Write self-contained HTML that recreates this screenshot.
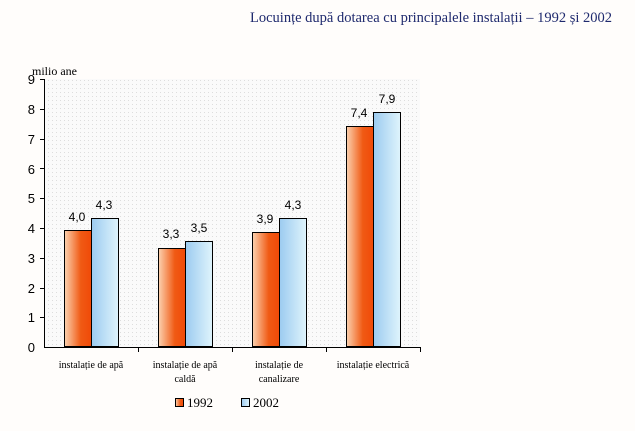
<!DOCTYPE html>
<html><head><meta charset="utf-8"><style>
body{margin:0;width:635px;height:426px;background:#fffdfb;overflow:hidden;font-family:"Liberation Serif",serif}
</style></head><body>
<svg width="635" height="426" xmlns="http://www.w3.org/2000/svg" font-family="Liberation Serif, serif">
<defs>
<linearGradient id="o" x1="0" x2="1"><stop offset="0" stop-color="#fbd2b0"/><stop offset="0.6" stop-color="#f05a14"/><stop offset="1" stop-color="#f04a08"/></linearGradient>
<linearGradient id="b" x1="0" x2="1"><stop offset="0" stop-color="#9ccbf0"/><stop offset="1" stop-color="#dff4fc"/></linearGradient>
<pattern id="d" width="4" height="4" patternUnits="userSpaceOnUse"><rect width="4" height="4" fill="#fafafa"/><rect width="1" height="1" fill="#ddd"/></pattern>
</defs>
<text x="612" y="22" font-size="14.5" fill="#1f2a6e" text-anchor="end">Locuințe după dotarea cu principalele instalații – 1992 și 2002</text>
<rect x="44" y="79" width="376" height="268" fill="url(#d)"/>
<text x="32" y="75" font-size="12" fill="#000">milio ane</text>
<g stroke="#000" stroke-width="1">
<line x1="44.5" y1="79" x2="44.5" y2="347"/>
<line x1="44" y1="347.5" x2="420" y2="347.5"/>
<line x1="40" y1="79.5" x2="44" y2="79.5"/><line x1="40" y1="109.5" x2="44" y2="109.5"/><line x1="40" y1="139.5" x2="44" y2="139.5"/><line x1="40" y1="168.5" x2="44" y2="168.5"/><line x1="40" y1="198.5" x2="44" y2="198.5"/><line x1="40" y1="228.5" x2="44" y2="228.5"/><line x1="40" y1="258.5" x2="44" y2="258.5"/><line x1="40" y1="288.5" x2="44" y2="288.5"/><line x1="40" y1="317.5" x2="44" y2="317.5"/>
<line x1="138.5" y1="347" x2="138.5" y2="352"/><line x1="232.5" y1="347" x2="232.5" y2="352"/><line x1="326.5" y1="347" x2="326.5" y2="352"/><line x1="420.5" y1="347" x2="420.5" y2="352"/>
</g>
<g font-size="13" text-anchor="end" fill="#000" font-family="Liberation Sans, sans-serif">
<text x="35" y="352">0</text><text x="35" y="322">1</text><text x="35" y="293">2</text><text x="35" y="263">3</text><text x="35" y="233">4</text><text x="35" y="203">5</text><text x="35" y="174">6</text><text x="35" y="144">7</text><text x="35" y="114">8</text><text x="35" y="84">9</text>
</g>
<g stroke="#000" stroke-width="1">
<rect x="64.5" y="230.5" width="27" height="116" fill="url(#o)"/>
<rect x="91.5" y="218.5" width="27" height="128" fill="url(#b)"/>
<rect x="158.5" y="248.5" width="27" height="98" fill="url(#o)"/>
<rect x="185.5" y="241.5" width="27" height="105" fill="url(#b)"/>
<rect x="252.5" y="232.5" width="27" height="114" fill="url(#o)"/>
<rect x="279.5" y="218.5" width="27" height="128" fill="url(#b)"/>
<rect x="346.5" y="126.5" width="27" height="220" fill="url(#o)"/>
<rect x="373.5" y="112.5" width="27" height="234" fill="url(#b)"/>
</g>
<g text-anchor="middle" fill="#000" font-family="Liberation Sans, sans-serif" font-size="12">
<text x="77" y="221">4,0</text><text x="104" y="209">4,3</text>
<text x="171" y="238">3,3</text><text x="199" y="232">3,5</text>
<text x="265" y="223">3,9</text><text x="293" y="209">4,3</text>
<text x="359" y="117">7,4</text><text x="387" y="103">7,9</text>
</g>
<g font-size="10" text-anchor="middle" fill="#000">
<text x="91" y="368">instalație de apă</text>
<text x="185" y="368">instalație de apă</text><text x="185" y="382">caldă</text>
<text x="279" y="368">instalație de</text><text x="279" y="382">canalizare</text>
<text x="373" y="368">instalație electrică</text>
</g>
<rect x="175.5" y="398.5" width="8" height="8" fill="url(#o)" stroke="#000"/>
<text x="187" y="407" font-size="13">1992</text>
<rect x="241.5" y="398.5" width="8" height="8" fill="url(#b)" stroke="#000"/>
<text x="253" y="407" font-size="13">2002</text>
</svg>
</body></html>
